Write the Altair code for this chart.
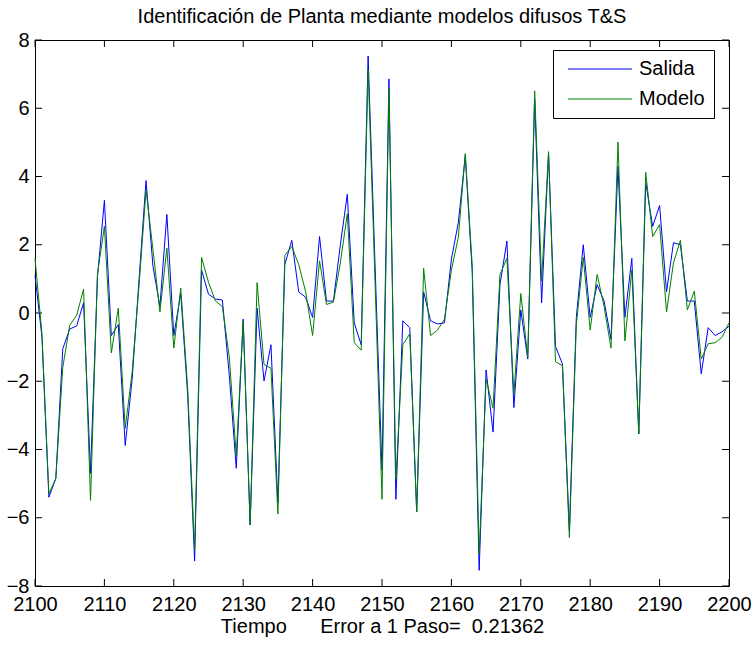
import altair as alt
import pandas as pd

# --- data ---
tiempo = list(range(2100, 2201))

salida = [
    1.10, -0.70, -5.40, -4.85, -1.05, -0.47, -0.38, 0.30, -4.70, 1.05,   # 2100-2109
    3.30, -0.66, -0.34, -3.88, -1.94, 1.00, 3.88, 1.37, 0.19, 2.89,      # 2110-2119
    -0.66, 0.57, -2.40, -7.27, 1.26, 0.55, 0.41, 0.38, -1.83, -4.55,     # 2120-2129
    -0.18, -6.21, 0.14, -1.99, -0.93, -5.57, 1.42, 2.13, 0.62, 0.46,     # 2130-2139
    -0.13, 2.24, 0.35, 0.35, 2.00, 3.48, -0.29, -0.93, 7.53, 1.40,       # 2140-2149
    -4.61, 6.86, -5.46, -0.23, -0.43, -5.83, 0.62, -0.23, -0.32, -0.29,  # 2150-2159
    1.58, 2.65, 4.60, 1.20, -7.54, -1.67, -3.49, 0.83, 2.11, -2.77,      # 2160-2169
    0.09, -1.35, 6.27, 0.30, 4.67, -0.98, -1.49, -6.37, -0.13, 2.00,     # 2170-2179
    -0.13, 0.83, 0.35, -0.77, 4.30, -0.13, 1.60, -3.54, 3.82, 2.54,      # 2180-2189
    3.15, 0.62, 2.06, 2.00, 0.35, 0.35, -1.78, -0.43, -0.66, -0.55,      # 2190-2199
    -0.39,                                                               # 2200
]

modelo = [
    1.60, -0.60, -5.30, -4.85, -1.60, -0.36, -0.07, 0.70, -5.49, 1.15,   # 2100-2109
    2.54, -1.17, 0.14, -3.38, -1.73, 0.83, 3.60, 1.85, 0.03, 1.90,       # 2110-2119
    -1.03, 0.73, -2.20, -6.95, 1.63, 0.90, 0.35, 0.19, -1.30, -4.18,     # 2120-2129
    -0.23, -6.21, 0.89, -1.51, -1.62, -5.89, 1.69, 1.95, 1.42, 0.62,     # 2130-2139
    -0.66, 1.53, 0.25, 0.32, 1.47, 2.91, -0.87, -1.09, 7.13, 0.90,       # 2140-2149
    -5.46, 6.59, -4.87, -0.93, -0.61, -5.83, 1.31, -0.66, -0.50, -0.18,  # 2150-2159
    1.26, 2.22, 4.67, 1.40, -7.06, -1.94, -2.79, 1.13, 1.60, -2.37,      # 2160-2169
    0.57, -1.30, 6.51, 0.94, 4.73, -1.43, -1.54, -6.58, -0.34, 1.63,     # 2170-2179
    -0.50, 1.13, 0.19, -1.03, 5.01, -0.82, 1.26, -3.54, 4.12, 2.24,      # 2180-2189
    2.59, 0.03, 1.47, 2.13, 0.09, 0.64, -1.35, -0.90, -0.87, -0.71,      # 2190-2199
    -0.29,                                                               # 2200
]

series_names = ["Salida", "Modelo"]
series_colors = ["#0000ff", "#008000"]
x_ticks = list(range(2100, 2201, 10))
y_ticks = list(range(-8, 9, 2))

title_text = "Identificación de Planta mediante modelos difusos T&S"
nb = "\u00a0"
xlabel_text = "Tiempo" + nb * 6 + "Error a 1 Paso=" + nb * 2 + "0.21362"

FONT = "Liberation Sans"
W, H = 694, 546
TICK = 7

df = pd.DataFrame({
    "t": tiempo + tiempo,
    "v": salida + modelo,
    "serie": ["Salida"] * len(tiempo) + ["Modelo"] * len(tiempo),
})
xt = pd.DataFrame({"xt": x_ticks})
yt = pd.DataFrame({"yt": y_ticks})

xscale = alt.Scale(domain=[2100, 2200], nice=False, zero=False)
yscale = alt.Scale(domain=[-8, 8], nice=False, zero=False)

x_enc = alt.X(
    "t:Q", scale=xscale,
    axis=alt.Axis(values=x_ticks, format="d", ticks=False, domain=False, grid=False,
                  labelFont=FONT, labelFontSize=20, labelColor="black", labelPadding=8,
                  title=xlabel_text, titleFont=FONT, titleFontSize=20,
                  titleFontWeight="normal", titleColor="black", titlePadding=2,
                  labelFlush=False),
)
y_enc = alt.Y(
    "v:Q", scale=yscale,
    axis=alt.Axis(values=y_ticks, format="d", ticks=False, domain=False, grid=False,
                  labelFont=FONT, labelFontSize=20, labelColor="black", labelPadding=6,
                  title=None, labelFlush=False),
)

# legend line symbol: a long horizontal path drawn with a small symbol size,
# so rows stay as tall as the label text
color_enc = alt.Color(
    "serie:N",
    scale=alt.Scale(domain=series_names, range=series_colors),
    legend=alt.Legend(
        title=None, orient="none", legendX=518, legendY=10,
        symbolType="M-4,0L4,0", symbolSize=256, symbolStrokeWidth=1,
        labelFont=FONT, labelFontSize=20, labelColor="black",
        labelOffset=29, padding=9, rowPadding=10, symbolOffset=28,
        strokeColor="black", fillColor="white",
    ),
)

base = alt.Chart(df)
line_salida = base.transform_filter(alt.datum.serie == "Salida").mark_line(
    strokeWidth=1).encode(x=x_enc, y=y_enc, color=color_enc, order="t:Q")
line_modelo = base.transform_filter(alt.datum.serie == "Modelo").mark_line(
    strokeWidth=1).encode(x=x_enc, y=y_enc, color=color_enc, order="t:Q")

tick_style = dict(color="black", strokeWidth=1)
xt_bottom = alt.Chart(xt).mark_rule(**tick_style).encode(
    x=alt.X("xt:Q", scale=xscale), y=alt.value(H), y2=alt.value(H - TICK))
xt_top = alt.Chart(xt).mark_rule(**tick_style).encode(
    x=alt.X("xt:Q", scale=xscale), y=alt.value(0), y2=alt.value(TICK))
yt_left = alt.Chart(yt).mark_rule(**tick_style).encode(
    y=alt.Y("yt:Q", scale=yscale), x=alt.value(0), x2=alt.value(TICK))
yt_right = alt.Chart(yt).mark_rule(**tick_style).encode(
    y=alt.Y("yt:Q", scale=yscale), x=alt.value(W), x2=alt.value(W - TICK))

chart = alt.layer(
    xt_bottom, xt_top, yt_left, yt_right, line_salida, line_modelo
).properties(
    width=W, height=H,
    title=alt.TitleParams(title_text, font=FONT, fontSize=20, fontWeight="normal",
                          color="black", anchor="middle", offset=3),
    autosize=alt.AutoSizeParams(type="none"),
    padding={"left": 35, "top": 40, "right": 26, "bottom": 60},
    background="white",
).configure_view(
    stroke="black", strokeWidth=1
).configure_legend(
    strokeWidth=1, cornerRadius=0
)

chart.save("out.html", embed_options={"renderer": "svg", "actions": False})
